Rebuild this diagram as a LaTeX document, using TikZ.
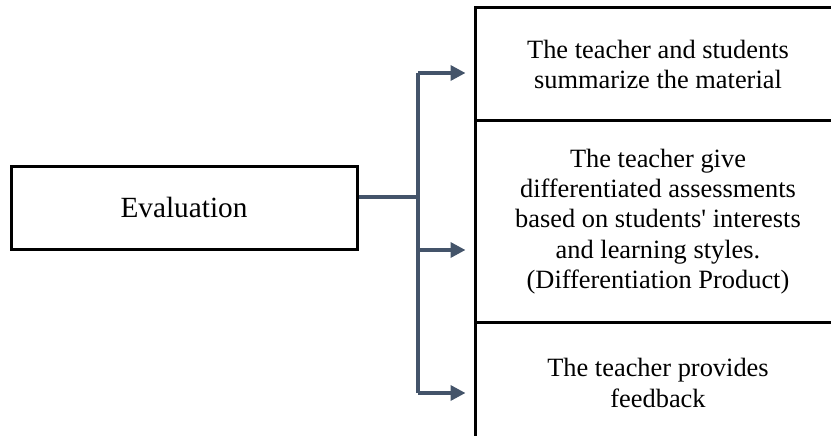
\documentclass[tikz,border=0pt]{standalone}
\usepackage{fontspec}
\setmainfont{Liberation Serif}
\usetikzlibrary{arrows.meta}
\definecolor{conn}{HTML}{44546A}
\begin{document}
\begin{tikzpicture}[x=1pt,y=-1pt,
  box/.style={draw=black,line width=3pt,rectangle,align=center,inner sep=0pt,
    font=\fontsize{26.4}{30.3}\selectfont},
  link/.style={draw=conn,line width=3.5pt},
  arr/.style={link,-{Triangle[length=15pt,width=15pt]},shorten >=8pt}]
\useasboundingbox (0,0) rectangle (831,436);
\begin{scope}
\clip (0,0) rectangle (831,436);
\node[box,minimum width=346pt,minimum height=83pt,font=\fontsize{29.3}{33}\selectfont] (eval) at (184,207.5) {Evaluation};
\node[box,minimum width=366pt,minimum height=113pt] (r1) at (658,64.5)
  {The teacher and students\\summarize the material};
\node[box,minimum width=366pt,minimum height=201pt] (r2) at (658,221.5)
  {The teacher give\\differentiated assessments\\based on students\textquotesingle{} interests\\and learning styles.\\(Differentiation Product)};
\node[box,minimum width=366pt,minimum height=122pt] (r3) at (658,383)
  {The teacher provides\\feedback};
\end{scope}
\coordinate (j) at (418,197);
\coordinate (jt) at (418,73);
\coordinate (jm) at (418,250);
\coordinate (jb) at (418,393);
\draw[link] (eval.east |- j) -- (j);
\draw[link] (jt) -- (jb);
\draw[arr] (jt) -- (jt -| r1.west);
\draw[arr] (jm) -- (jm -| r2.west);
\draw[arr] (jb) -- (jb -| r3.west);
\end{tikzpicture}
\end{document}
